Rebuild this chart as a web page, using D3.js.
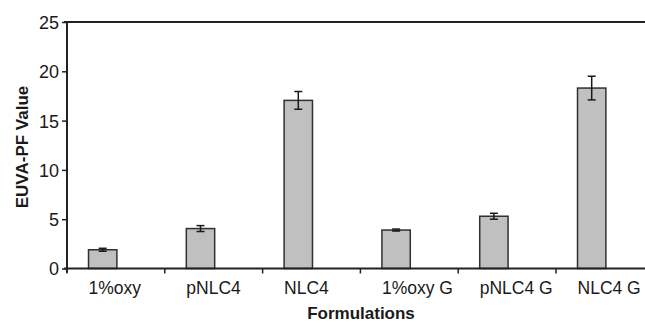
<!DOCTYPE html>
<html>
<head>
<meta charset="utf-8">
<script src="https://cdn.jsdelivr.net/npm/d3@7/dist/d3.min.js"></script>
<style>
  html, body { margin: 0; padding: 0; background: #fff; }
  svg { display: block; }
  text { font-family: "Liberation Sans", Arial, sans-serif; fill: #1a1a1a; }
</style>
</head>
<body>
<svg id="chart" width="645" height="323"></svg>
<script>
const categories = ["1%oxy", "pNLC4", "NLC4", "1%oxy G", "pNLC4 G", "NLC4 G"];
const values = [1.9, 4.05, 17.05, 3.9, 5.3, 18.3];
const errors = [0.15, 0.3, 0.9, 0.1, 0.3, 1.2];
const yTicks = [0, 5, 10, 15, 20, 25];

(function () {
const svg = d3.select("#chart");
const W = 645, H = 323;
const mLeft = 67, mTop = 22, mBottom = 268.5;
const bandW = 97.8;

const x = d3.scaleBand().domain(categories).range([mLeft, mLeft + bandW * categories.length]).paddingInner(0).paddingOuter(0);
const y = d3.scaleLinear().domain([0, 25]).range([mBottom, mTop]);

const barOff = x.bandwidth() * 0.22;
const barW = x.bandwidth() * 0.29;

const axisColor = "#222";

// top border
svg.append("line").attr("x1", mLeft - 3).attr("x2", W).attr("y1", y(25)).attr("y2", y(25))
  .attr("stroke", axisColor).attr("stroke-width", 2);

// bars
const data = categories.map((c, i) => ({ c, v: values[i], e: errors[i] }));
svg.selectAll("rect.bar").data(data).enter().append("rect")
  .attr("class", "bar")
  .attr("x", d => x(d.c) + barOff)
  .attr("width", barW)
  .attr("y", d => y(d.v))
  .attr("height", d => y(0) - y(d.v))
  .attr("fill", "#c0c0c0")
  .attr("stroke", "#303030")
  .attr("stroke-width", 1.5);

// error bars
const capW = 4;
const eg = svg.selectAll("g.err").data(data).enter().append("g").attr("class", "err")
  .attr("stroke", "#1a1a1a").attr("stroke-width", 1.5);
eg.append("line")
  .attr("x1", d => x(d.c) + barOff + barW / 2).attr("x2", d => x(d.c) + barOff + barW / 2)
  .attr("y1", d => y(d.v + d.e)).attr("y2", d => y(d.v - d.e));
eg.append("line")
  .attr("x1", d => x(d.c) + barOff + barW / 2 - capW).attr("x2", d => x(d.c) + barOff + barW / 2 + capW)
  .attr("y1", d => y(d.v + d.e)).attr("y2", d => y(d.v + d.e));
eg.append("line")
  .attr("x1", d => x(d.c) + barOff + barW / 2 - capW).attr("x2", d => x(d.c) + barOff + barW / 2 + capW)
  .attr("y1", d => y(d.v - d.e)).attr("y2", d => y(d.v - d.e));

// y axis
const yAxis = d3.axisLeft(y).tickValues(yTicks).tickSize(5).tickSizeOuter(0).tickPadding(3);
const gy = svg.append("g").attr("transform", `translate(${mLeft},0)`).call(yAxis);
gy.select(".domain").attr("stroke", axisColor).attr("stroke-width", 2)
  .attr("d", `M0,${mTop}V${mBottom + 4}`);
gy.selectAll(".tick line").attr("stroke", axisColor).attr("stroke-width", 1.5);
gy.selectAll(".tick text").attr("font-size", 18).attr("fill", "#1a1a1a")
  .attr("font-family", "Liberation Sans, Arial, sans-serif").attr("dy", "0.36em");

// x axis
svg.append("line").attr("x1", mLeft - 3).attr("x2", W).attr("y1", y(0)).attr("y2", y(0))
  .attr("stroke", axisColor).attr("stroke-width", 2);
svg.selectAll("line.xtick").data(categories).enter().append("line")
  .attr("class", "xtick")
  .attr("x1", d => x(d)).attr("x2", d => x(d))
  .attr("y1", y(0)).attr("y2", y(0) + 5)
  .attr("stroke", axisColor).attr("stroke-width", 1.5);

svg.selectAll("text.xlab").data(categories).enter().append("text")
  .attr("class", "xlab")
  .attr("x", d => x(d) + barOff)
  .attr("y", 294)
  .attr("font-size", 17.5)
  .attr("text-anchor", "start")
  .text(d => d);

// axis titles
svg.append("text").attr("x", 361).attr("y", 319).attr("text-anchor", "middle")
  .attr("font-size", 17).attr("font-weight", "bold").text("Formulations");

svg.append("text").attr("transform", "translate(28,147) rotate(-90)").attr("text-anchor", "middle")
  .attr("font-size", 17).attr("font-weight", "bold").text("EUVA-PF Value");
})();
</script>
</body>
</html>
